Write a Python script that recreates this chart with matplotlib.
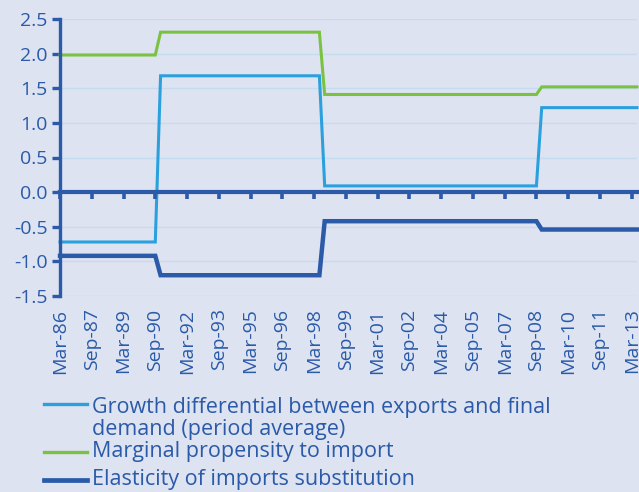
import numpy as np
import matplotlib
matplotlib.use("Agg")
import matplotlib.pyplot as plt
from matplotlib.lines import Line2D

# ---------------- data (quarterly, Mar-86 .. Jun-13) ----------------
# last quarter index of each regime (0 = Mar-86)
regime_ends = [18, 49, 90, 109]
growth_diff = [-0.72, 1.68, 0.09, 1.22]     # growth differential exports vs final demand
marg_prop = [1.98, 2.31, 1.41, 1.52]        # marginal propensity to import
elasticity = [-0.92, -1.20, -0.42, -0.54]   # elasticity of imports substitution

tick_labels = ["Mar-86", "Sep-87", "Mar-89", "Sep-90", "Mar-92", "Sep-93", "Mar-95",
               "Sep-96", "Mar-98", "Sep-99", "Mar-01", "Sep-02", "Mar-04", "Sep-05",
               "Mar-07", "Sep-08", "Mar-10", "Sep-11", "Mar-13"]
y_ticks = [-1.5, -1.0, -0.5, 0.0, 0.5, 1.0, 1.5, 2.0, 2.5]

legend_labels = [["Growth differential between exports and final", "demand (period average)"],
                 ["Marginal propensity to import"],
                 ["Elasticity of imports substitution"]]

# ---------------- style ----------------
BG = "#dde3f1"
DARK = "#2a5aa8"
LIGHT = "#2aa0dc"
GREEN = "#7cc242"
GRID = "#c4dbf0"

counts = np.diff([-1] + regime_ends)
series = [np.repeat(v, counts) for v in (growth_diff, marg_prop, elasticity)]
x = np.arange(len(series[0]))

fig = plt.figure(figsize=(6.39, 4.92), dpi=100, facecolor=BG)
ax = fig.add_axes([60 / 639, 1 - 296 / 492, 577 / 639, 277 / 492], facecolor=BG)

colours = [LIGHT, GREEN, DARK]
widths = [2.2, 2.2, 3.2]
for s, c, w in zip(series, colours, widths):
    ax.plot(x, s, color=c, lw=w, zorder=3, clip_on=False, solid_joinstyle="miter")

ax.set_xlim(0, x[-1])
ax.set_ylim(-1.5, 2.5)

for side in ("top", "right", "bottom"):
    ax.spines[side].set_visible(False)
ax.spines["left"].set_color(DARK)
ax.spines["left"].set_linewidth(2.4)
ax.spines["left"].set_zorder(5)

ax.set_yticks(y_ticks)
ax.set_yticklabels([f"{v:.1f}" for v in y_ticks])
ax.tick_params(axis="y", direction="out", length=6, width=2.4, color=DARK,
               labelcolor=DARK, labelsize=14, pad=3)
ax.yaxis.grid(True, color=GRID, lw=0.9, zorder=0)
ax.set_axisbelow(True)

tick_pos = np.arange(0, 6 * len(tick_labels), 6)
ax.set_xticks(tick_pos)
ax.set_xticklabels(tick_labels, rotation=90, va="top", ha="center")
ax.tick_params(axis="x", length=0, labelcolor=DARK, labelsize=14, pad=9)
for lbl in ax.get_xticklabels() + ax.get_yticklabels():
    lbl.set_fontfamily("Open Sans")

# zero line with small downward ticks
sec = ax.secondary_xaxis(1.5 / 4)
sec.set_xticks(tick_pos)
sec.tick_params(axis="x", direction="out", length=5, width=2.6, color=DARK, labelbottom=False)
sec.spines["bottom"].set_color(DARK)
sec.spines["bottom"].set_linewidth(3.0)
sec.set_zorder(4)

# legend
rows_y = [[407, 430], [452], [480]]
handle_y = [404, 452, 480]
for lines, ys, hy, c, w in zip(legend_labels, rows_y, handle_y, colours, widths):
    fig.add_artist(Line2D([44 / 639, 87 / 639], [1 - hy / 492] * 2, color=c, lw=w + 0.2,
                          transform=fig.transFigure))
    for txt, ty in zip(lines, ys):
        fig.text(92 / 639, 1 - ty / 492, txt, color=DARK, fontsize=15.5, va="center", ha="left",
                 family=["Liberation Sans Narrow", "Open Sans"])

fig.savefig("out.png", dpi=100, facecolor=BG)
